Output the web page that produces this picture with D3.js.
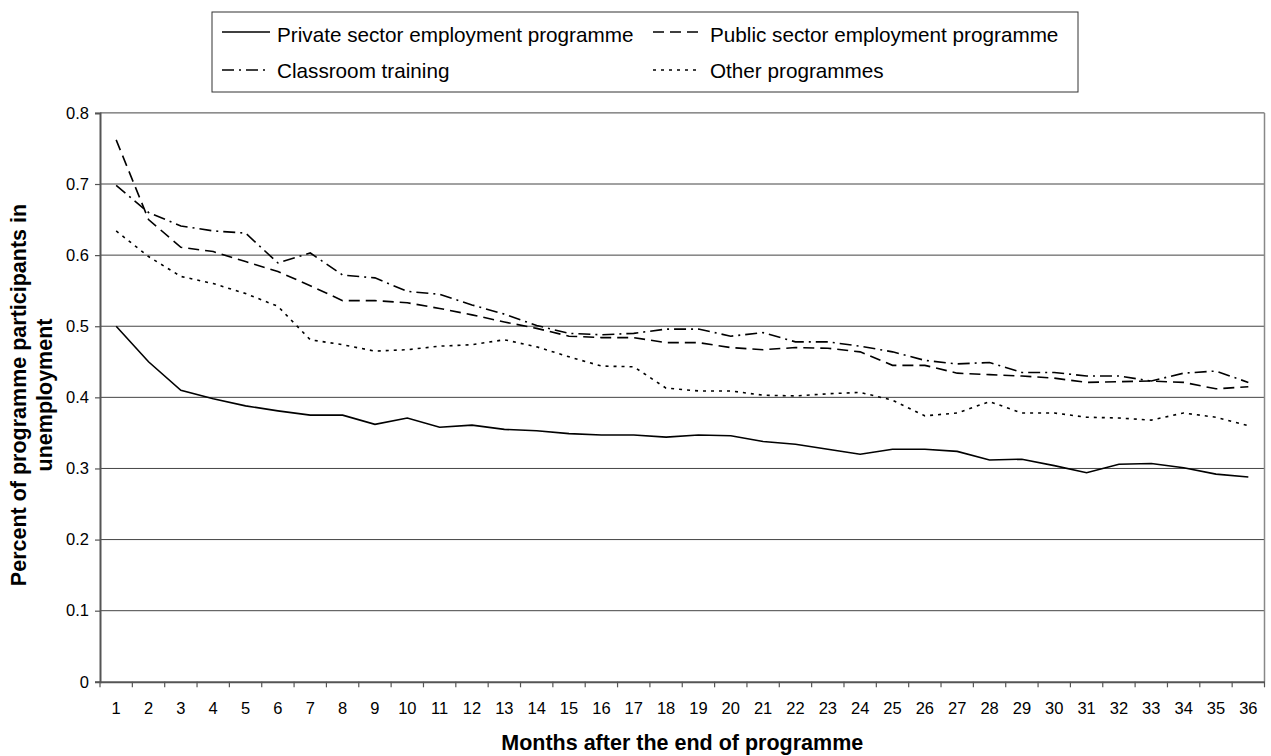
<!DOCTYPE html>
<html>
<head>
<meta charset="utf-8">
<script src="https://cdn.jsdelivr.net/npm/d3@7"></script>
<style>
  html, body { margin: 0; padding: 0; background: #fff; }
  svg { display: block; font-family: "Liberation Sans", Arial, sans-serif; }
  .tick text { font-size: 16.5px; font-family: "Liberation Sans", Arial, sans-serif; fill: #000; }
</style>
</head>
<body>
<svg id="chart" width="1271" height="756"></svg>
<script>
const months = d3.range(1, 37);
const yTicks = [0, 0.1, 0.2, 0.3, 0.4, 0.5, 0.6, 0.7, 0.8];
const yTickLabels = ["0", "0.1", "0.2", "0.3", "0.4", "0.5", "0.6", "0.7", "0.8"];

const privateSector = [0.500, 0.450, 0.410, 0.398, 0.388, 0.381, 0.375, 0.375, 0.362, 0.371,
  0.358, 0.361, 0.355, 0.353, 0.349, 0.347, 0.347, 0.344, 0.347, 0.346,
  0.338, 0.334, 0.327, 0.320, 0.327, 0.327, 0.324, 0.312, 0.313, 0.304,
  0.294, 0.306, 0.307, 0.301, 0.292, 0.288];
const publicSector = [0.762, 0.650, 0.611, 0.605, 0.591, 0.577, 0.557, 0.536, 0.536, 0.533,
  0.525, 0.516, 0.506, 0.497, 0.486, 0.484, 0.484, 0.477, 0.477, 0.470,
  0.467, 0.470, 0.469, 0.464, 0.445, 0.445, 0.434, 0.432, 0.430, 0.427,
  0.421, 0.422, 0.423, 0.421, 0.412, 0.415];
const classroom = [0.698, 0.660, 0.641, 0.634, 0.631, 0.589, 0.603, 0.572, 0.568, 0.549,
  0.545, 0.530, 0.517, 0.501, 0.490, 0.488, 0.490, 0.496, 0.496, 0.486,
  0.491, 0.478, 0.478, 0.472, 0.464, 0.452, 0.447, 0.449, 0.435, 0.435,
  0.430, 0.430, 0.423, 0.434, 0.437, 0.421];
const otherProg = [0.634, 0.598, 0.570, 0.560, 0.546, 0.528, 0.481, 0.474, 0.465, 0.467,
  0.472, 0.474, 0.481, 0.471, 0.457, 0.444, 0.443, 0.413, 0.409, 0.409,
  0.403, 0.402, 0.405, 0.407, 0.396, 0.374, 0.378, 0.394, 0.378, 0.378,
  0.372, 0.371, 0.368, 0.378, 0.372, 0.360];

const seriesNames = ["Private sector employment programme", "Public sector employment programme",
  "Classroom training", "Other programmes"];
const seriesValues = [privateSector, publicSector, classroom, otherProg];
const seriesDash = ["none", "11,6", "12,5,2,5", "3,5"];

const svg = d3.select("#chart");
const L = 100, R = 1264.5, T = 112.9, B = 681.8;

const x = d3.scaleBand().domain(months).range([L, R]).padding(0);
const y = d3.scaleLinear().domain([0, 0.8]).range([B, T]);

// gridlines
svg.append("g").selectAll("line").data(yTicks.filter(d => d > 0)).join("line")
  .attr("x1", L).attr("x2", R)
  .attr("y1", d => y(d)).attr("y2", d => y(d))
  .attr("stroke", "#444").attr("stroke-width", 1);

// right border
svg.append("line").attr("x1", R).attr("x2", R).attr("y1", T).attr("y2", B)
  .attr("stroke", "#888").attr("stroke-width", 1.5);

// y axis
const yAxis = d3.axisLeft(y).tickValues(yTicks).tickFormat((d, i) => yTickLabels[i])
  .tickSize(5).tickPadding(6);
const gy = svg.append("g").attr("transform", `translate(${L},0)`).call(yAxis);
gy.attr("font-size", null).attr("font-family", null);
gy.select(".domain").attr("stroke", "#555").attr("stroke-width", 2);
gy.selectAll(".tick line").attr("stroke", "#555").attr("stroke-width", 1.2);

// x axis labels
const xAxis = d3.axisBottom(x).tickSize(0).tickPadding(20);
const gx = svg.append("g").attr("transform", `translate(0,${B})`).call(xAxis);
gx.attr("font-size", null).attr("font-family", null);
gx.select(".domain").attr("stroke", "#555").attr("stroke-width", 2);

// x boundary ticks
const boundaries = months.map(m => x(m)).concat([R]);
svg.append("g").selectAll("line").data(boundaries).join("line")
  .attr("x1", d => d).attr("x2", d => d)
  .attr("y1", B).attr("y2", B + 5.5)
  .attr("stroke", "#555").attr("stroke-width", 1.2);

// lines
const line = d3.line().x((d, i) => x(months[i]) + x.bandwidth() / 2).y(d => y(d));
seriesValues.forEach((vals, k) => {
  svg.append("path").datum(vals)
    .attr("d", line)
    .attr("fill", "none")
    .attr("stroke", "#000")
    .attr("stroke-width", 1.6)
    .attr("stroke-dasharray", seriesDash[k]);
});

// axis titles
svg.append("text").attr("x", (L + R) / 2).attr("y", 750)
  .attr("text-anchor", "middle").attr("font-size", "21.5px").attr("font-weight", "bold")
  .text("Months after the end of programme");

const yt = svg.append("text").attr("transform", `translate(0,${395}) rotate(-90)`)
  .attr("text-anchor", "middle").attr("font-size", "21.5px").attr("font-weight", "bold");
yt.append("tspan").attr("x", 0).attr("y", 26).text("Percent of programme participants in");
yt.append("tspan").attr("x", 0).attr("y", 52).text("unemployment");

// legend
svg.append("rect").attr("x", 212).attr("y", 12).attr("width", 866).attr("height", 80)
  .attr("fill", "#fff").attr("stroke", "#333").attr("stroke-width", 1);
const legPos = [
  { lx: 222, ly: 32, tx: 277, ty: 41.7 },
  { lx: 653, ly: 32, tx: 710, ty: 41.7 },
  { lx: 222, ly: 70, tx: 277, ty: 78.3 },
  { lx: 653, ly: 70, tx: 710, ty: 78.3 }
];
seriesNames.forEach((name, k) => {
  const p = legPos[k];
  svg.append("line").attr("x1", p.lx).attr("x2", p.lx + 48)
    .attr("y1", p.ly).attr("y2", p.ly)
    .attr("stroke", "#000").attr("stroke-width", 1.6)
    .attr("stroke-dasharray", seriesDash[k]);
  svg.append("text").attr("x", p.tx).attr("y", p.ty)
    .attr("font-size", "20.7px").attr("fill", "#000").text(name);
});
</script>
</body>
</html>
